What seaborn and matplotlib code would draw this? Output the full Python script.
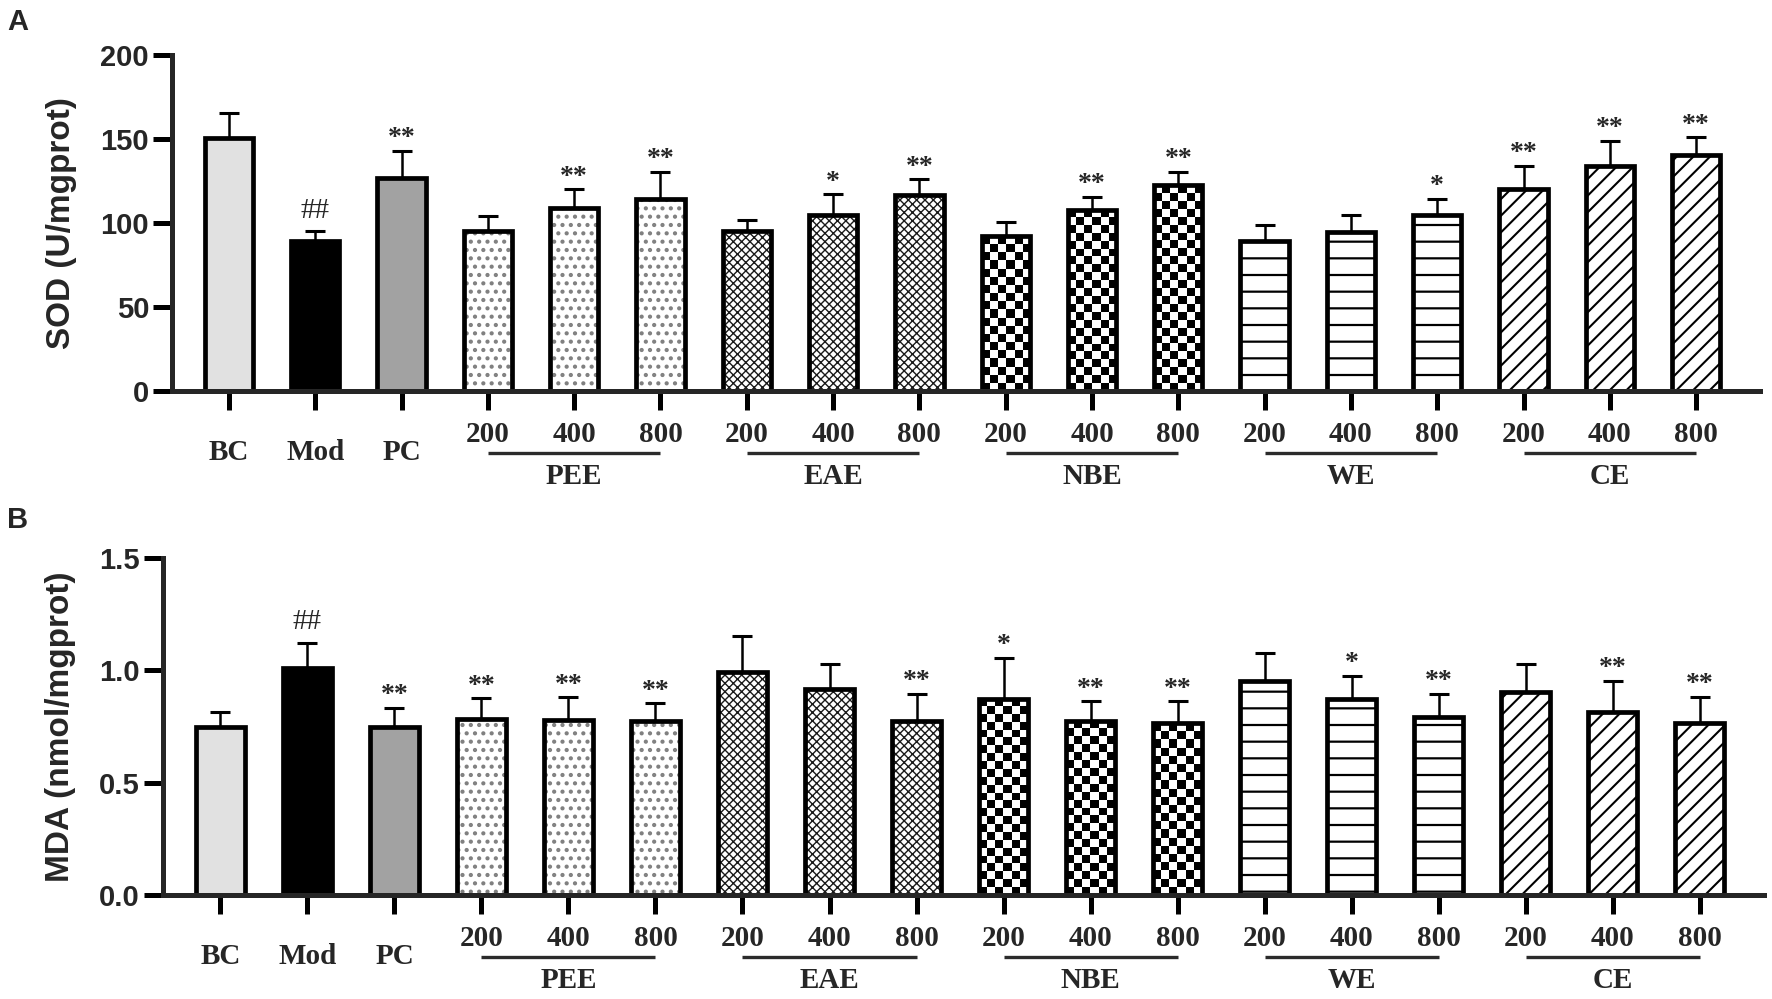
import numpy as np
import pandas as pd

import matplotlib
matplotlib.use('Agg')

import matplotlib.pyplot as plt
import matplotlib.transforms as mtransforms

import seaborn as sns

# groups on the x axis
base_groups = ['BC', 'Mod', 'PC']
extracts = ['PEE', 'EAE', 'NBE', 'WE', 'CE']
doses = ['200', '400', '800']
groups = base_groups + [e + ' ' + d for e in extracts for d in doses]

# panel A: SOD (U/mgprot), mean and upper SD
sod_mean = [150.5, 89, 126.5, 95.5, 109, 114.5, 95, 105, 116.5,
            92, 108, 122.5, 89, 94.5, 105, 120.5, 134, 140.5]
sod_sd = [15, 6, 16.5, 8.5, 11, 16, 7, 12, 9.5,
          8.5, 7.5, 8, 10, 10.5, 9.5, 13.5, 15, 10.5]
sod_sig = ['', '##', '**', '', '**', '**', '', '*', '**',
           '', '**', '**', '', '', '*', '**', '**', '**']

# panel B: MDA (nmol/mgprot)
mda_mean = [0.75, 1.01, 0.75, 0.785, 0.78, 0.773, 0.994, 0.916, 0.773,
            0.874, 0.776, 0.765, 0.953, 0.871, 0.791, 0.905, 0.815, 0.766]
mda_sd = [0.066, 0.11, 0.083, 0.09, 0.10, 0.08, 0.158, 0.11, 0.123,
          0.182, 0.087, 0.098, 0.124, 0.105, 0.105, 0.122, 0.138, 0.117]
mda_sig = ['', '##', '**', '**', '**', '**', '', '', '**',
           '*', '**', '**', '', '*', '**', '', '**', '**']

# bar looks
face_colors = ['#e1e1e1', '#000000', '#a2a2a2'] + ['#ffffff'] * 15
patterns = ['', '', ''] + ['..'] * 3 + ['xxxx'] * 3 + ['checker'] * 3 + ['-'] * 3 + ['//'] * 3
pattern_colors = ['k'] * 3 + ['#808080'] * 3 + ['#1a1a1a'] * 3 + ['k'] * 3 + ['k'] * 3 + ['k'] * 3
pattern_widths = [1] * 3 + [1.8] * 3 + [1.0] * 3 + [1] * 3 + [1.6] * 3 + [1.5] * 3

BAR_W = 0.56
EDGE_W = 3.4
AXIS_W = 3.6
CHECK_PX = 8.0

SERIF = ['Liberation Serif', 'DejaVu Serif']


def draw_panel(ax, means, sds, sigs, ymax, yticks, ytick_labels, ylabel, label_right_px):
    fig = ax.figure
    n = len(groups)
    df = pd.DataFrame({'group': groups, 'value': means})

    # filled faces (with hatching)
    sns.barplot(data=df, x='group', y='value', hue='group',
                palette=dict(zip(groups, face_colors)), saturation=1,
                width=BAR_W, errorbar=None, legend=False, linewidth=0, ax=ax)
    fills = list(ax.patches)

    # black frames on top
    sns.barplot(data=df, x='group', y='value', color='black', fill=False,
                saturation=1, width=BAR_W, errorbar=None, linewidth=EDGE_W, ax=ax)
    outlines = [p for p in ax.patches if all(p is not f for f in fills)]
    for p in outlines:
        p.set_facecolor('none')
        p.set_edgecolor('black')
        p.set_linewidth(EDGE_W)
        p.set_zorder(1.2)

    ax.set_xlim(-0.66, n - 1 + 0.74)
    ax.set_ylim(0, ymax)

    for p, pat, pc, pw in zip(fills, patterns, pattern_colors, pattern_widths):
        if pat == 'checker':
            x0, y0, w, h = p.get_x(), p.get_y(), p.get_width(), p.get_height()
            (px0, py0), (px1, py1) = ax.transData.transform([(x0, y0), (x0 + w, y0 + h)])
            nx = max(1, int(round((px1 - px0) / CHECK_PX)))
            ny = max(1, int(round((py1 - py0) / CHECK_PX)))
            cells = np.indices((ny, nx)).sum(axis=0) % 2
            img = ax.imshow(cells, cmap='gray', vmin=0, vmax=1, origin='lower',
                            extent=(x0, x0 + w, y0, y0 + h), aspect='auto',
                            interpolation='nearest', zorder=1.1)
            img.set_clip_path(p)
        elif pat:
            p.set_hatch(pat)
            p.set_edgecolor(pc)
            if hasattr(p, 'set_hatch_linewidth'):
                p.set_hatch_linewidth(pw)

    ax.set_xlim(-0.66, n - 1 + 0.74)
    ax.set_ylim(0, ymax)

    # upper error bars
    xs = np.arange(n)
    ax.errorbar(xs, means, yerr=[np.zeros(n), sds], fmt='none', ecolor='black',
                elinewidth=1.8, capsize=7, capthick=2.2, zorder=3)

    # significance marks
    for i, s in enumerate(sigs):
        if not s:
            continue
        top = means[i] + sds[i]
        if s.startswith('#'):
            ax.annotate(s, xy=(i, top), xytext=(0, 10), textcoords='offset points',
                        ha='center', va='baseline', fontsize=21, family=SERIF,
                        fontweight='normal', annotation_clip=False)
        else:
            ax.annotate(s, xy=(i, top), xytext=(0, 4), textcoords='offset points',
                        ha='center', va='baseline', fontsize=20, family=SERIF,
                        fontweight='bold', annotation_clip=False)

    # group labels under the axis
    trans = mtransforms.blended_transform_factory(ax.transData, ax.transAxes)
    dose_tr = mtransforms.offset_copy(trans, fig=fig, y=-43, units='dots')
    base_tr = mtransforms.offset_copy(trans, fig=fig, y=-61, units='dots')
    line_tr = mtransforms.offset_copy(trans, fig=fig, y=-62, units='dots')
    grp_tr = mtransforms.offset_copy(trans, fig=fig, y=-85, units='dots')

    for i, g in enumerate(base_groups):
        ax.text(i, 0, g, transform=base_tr, ha='center', va='center',
                fontsize=21, family=SERIF, fontweight='bold')
    for k, e in enumerate(extracts):
        first = len(base_groups) + 3 * k
        for j, d in enumerate(doses):
            ax.text(first + j, 0, d, transform=dose_tr, ha='center', va='center',
                    fontsize=21, family=SERIF, fontweight='bold')
        ax.plot([first, first + 2], [0, 0], transform=line_tr, clip_on=False,
                color='#2b2b2b', lw=2.4, solid_capstyle='butt')
        ax.text(first + 1, 0, e, transform=grp_tr, ha='center', va='center',
                fontsize=21, family=SERIF, fontweight='bold')

    # axes styling
    sns.despine(ax=ax)
    for side in ['left', 'bottom']:
        ax.spines[side].set_linewidth(AXIS_W)
    ax.set_xlabel('')
    ax.set_yticks(yticks)
    ax.set_yticklabels(ytick_labels)
    ax.tick_params(axis='both', direction='out', length=13.5, width=AXIS_W, color='black')
    ax.tick_params(axis='x', labelbottom=False)
    ax.tick_params(axis='y', labelsize=21, pad=3)
    for lbl in ax.get_yticklabels():
        lbl.set_fontweight('bold')
    ax.set_ylabel(ylabel, fontsize=24, fontweight='bold')
    bb = ax.get_position()
    left_px = bb.x0 * fig.get_figwidth() * fig.dpi
    width_px = bb.width * fig.get_figwidth() * fig.dpi
    ax.yaxis.set_label_coords((label_right_px - left_px) / width_px, 0.5)


if __name__ == '__main__':
    sns.set_style('ticks')
    plt.rcParams['font.family'] = ['Liberation Sans', 'DejaVu Sans']
    plt.rcParams['hatch.linewidth'] = 1.3

    W, H = 1772, 999
    fig = plt.figure(figsize=(W / 100, H / 100), dpi=100)

    ax_a = fig.add_axes([172 / W, 1 - 391 / H, 1588 / W, 336 / H])
    ax_b = fig.add_axes([163 / W, 1 - 895 / H, 1601 / W, 337 / H])

    draw_panel(ax_a, sod_mean, sod_sd, sod_sig, 200, [0, 50, 100, 150, 200],
               ['0', '50', '100', '150', '200'], 'SOD (U/mgprot)', 77)
    draw_panel(ax_b, mda_mean, mda_sd, mda_sig, 1.5, [0, 0.5, 1.0, 1.5],
               ['0.0', '0.5', '1.0', '1.5'], 'MDA (nmol/mgprot)', 76)

    fig.text(7 / W, 1 - 22 / H, 'A', fontsize=21, fontweight='bold', va='center', ha='left')
    fig.text(7 / W, 1 - 520 / H, 'B', fontsize=21, fontweight='bold', va='center', ha='left')

    fig.savefig('out.png', dpi=100)
    plt.close(fig)
